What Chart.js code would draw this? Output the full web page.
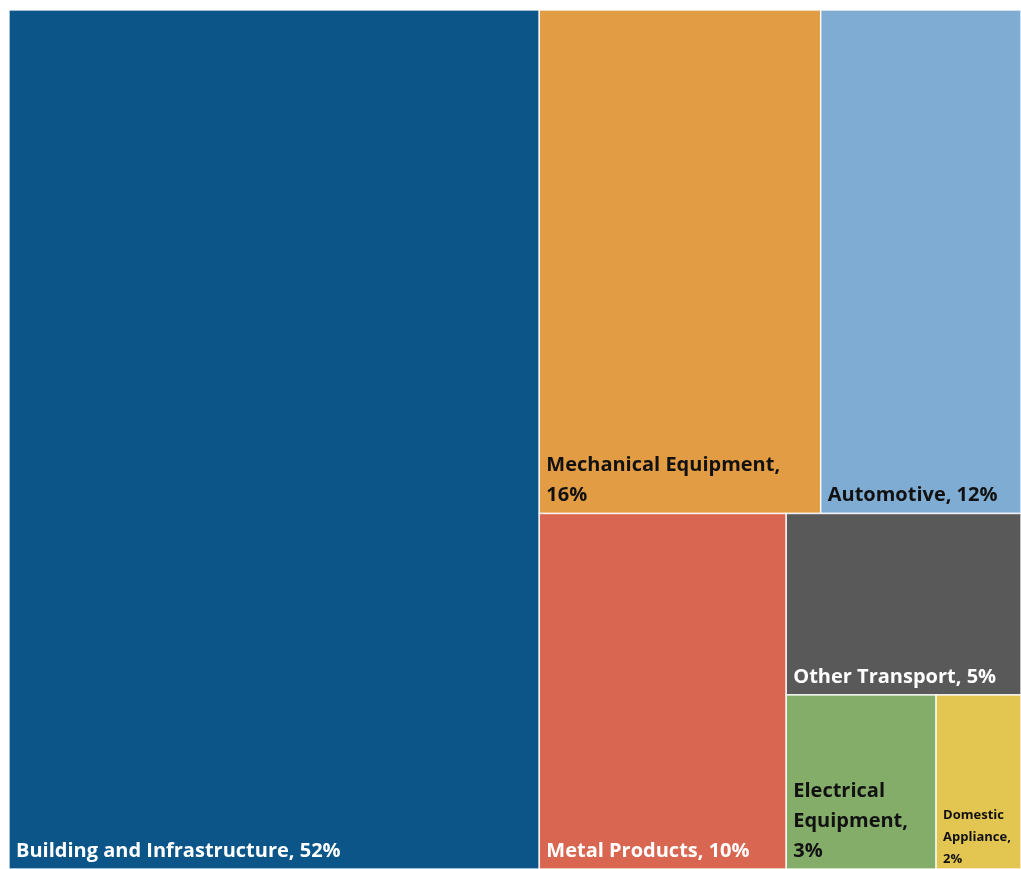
<!DOCTYPE html>
<html>
<head>
<meta charset="utf-8">
<script src="https://cdn.jsdelivr.net/npm/chart.js@4/dist/chart.umd.min.js"></script>
<style>
  html, body { margin: 0; padding: 0; background: #fff; }
  #wrap { width: 1021px; height: 869px; position: relative; }
</style>
</head>
<body>
<div id="wrap"><canvas id="treeChart"></canvas></div>
<script>
// Treemap data (share of demand, %) - labels show the rounded value
const categories = ['Building and Infrastructure', 'Mechanical Equipment', 'Automotive', 'Metal Products', 'Other Transport', 'Electrical Equipment', 'Domestic Appliance'];
const shares = [52.4, 16.3, 11.6, 10.1, 4.9, 3.0, 1.7];
const colors = ['#0b5589', '#e29c44', '#7facd3', '#d96650', '#595959', '#85ad6a', '#e3c552'];
const textColors = ['#ffffff', '#111111', '#111111', '#ffffff', '#ffffff', '#111111', '#111111'];

// split values into rows: each row takes items until it holds half of what is left
function layoutTree(vals, area, pxW, pxH) {
    const rects = [];
    let idx = 0;
    let { x, y, w, h } = area;
    while (idx < vals.length) {
        const remaining = vals.slice(idx).reduce((a, b) => a + b, 0);
        const row = [];
        let rowSum = 0;
        while (idx < vals.length && rowSum < remaining / 2) {
            row.push(idx);
            rowSum += vals[idx];
            idx++;
        }
        const frac = rowSum / remaining;
        if (w * pxW >= h * pxH) {
            // column on the left
            const cw = w * frac;
            let cy = y;
            row.forEach(i => {
                const rh = h * vals[i] / rowSum;
                rects[i] = { x: x, y: cy, w: cw, h: rh };
                cy += rh;
            });
            x += cw; w -= cw;
        } else {
            // row on top
            const rh = h * frac;
            let cx = x;
            row.forEach(i => {
                const rw = w * vals[i] / rowSum;
                rects[i] = { x: cx, y: y, w: rw, h: rh };
                cx += rw;
            });
            y += rh; h -= rh;
        }
    }
    return rects;
}

function wrapText(ctx, text, maxW) {
    const words = text.split(' ');
    const lines = [];
    let line = '';
    words.forEach(wd => {
        const test = line ? line + ' ' + wd : wd;
        if (ctx.measureText(test).width > maxW && line) {
            lines.push(line);
            line = wd;
        } else {
            line = test;
        }
    });
    if (line) lines.push(line);
    return lines;
}

const treemapPlugin = {
    id: 'treemapDraw',
    afterDatasetsDraw(chart) {
        const { ctx, chartArea, scales } = chart;
        const xs = scales.x, ys = scales.y;
        const rects = layoutTree(shares, { x: 0, y: 0, w: 1, h: 1 }, chartArea.width, chartArea.height);
        ctx.save();
        rects.forEach((r, i) => {
            const x0 = xs.getPixelForValue(r.x);
            const x1 = xs.getPixelForValue(r.x + r.w);
            const y0 = ys.getPixelForValue(r.y);
            const y1 = ys.getPixelForValue(r.y + r.h);
            ctx.fillStyle = colors[i];
            ctx.fillRect(x0, y0, x1 - x0, y1 - y0);
            ctx.strokeStyle = 'rgba(255,255,255,0.85)';
            ctx.lineWidth = 1.5;
            ctx.strokeRect(x0, y0, x1 - x0, y1 - y0);

            const small = (x1 - x0) < 110;
            const size = small ? 13 : 20;
            const lineH = small ? 22 : 30;
            ctx.font = `bold ${size}px "Open Sans", sans-serif`;
            ctx.fillStyle = textColors[i];
            ctx.textBaseline = 'alphabetic';
            ctx.textAlign = 'left';
            const pad = small ? 7 : 7;
            const lines = wrapText(ctx, `${categories[i]}, ${Math.round(shares[i])}%`, x1 - x0 - 2 * pad);
            const base = y1 - (small ? 6 : 12);
            lines.forEach((ln, k) => {
                ctx.fillText(ln, x0 + pad, base - (lines.length - 1 - k) * lineH);
            });
        });
        ctx.restore();
    }
};

new Chart(document.getElementById('treeChart').getContext('2d'), {
    type: 'scatter',
    data: {
        datasets: [{ data: [], pointRadius: 0 }]
    },
    options: {
        responsive: true,
        maintainAspectRatio: false,
        animation: false,
        layout: { padding: { left: 9, top: 10, right: 0, bottom: 0 } },
        scales: {
            x: { type: 'linear', min: 0, max: 1, display: false },
            y: { type: 'linear', min: 0, max: 1, reverse: true, display: false }
        },
        plugins: {
            legend: { display: false },
            tooltip: { enabled: false }
        }
    },
    plugins: [treemapPlugin]
});
</script>
</body>
</html>
